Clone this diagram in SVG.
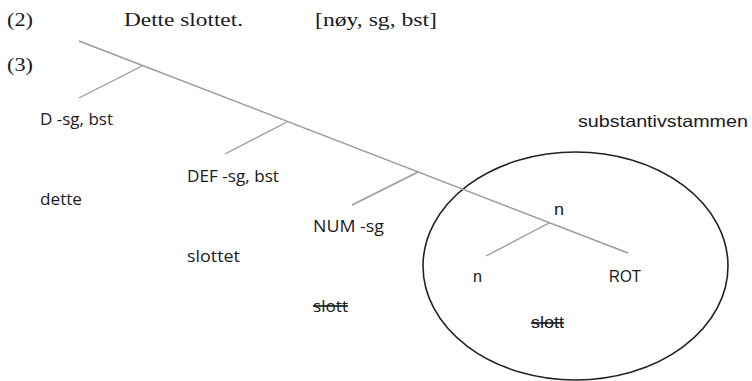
<svg xmlns="http://www.w3.org/2000/svg" width="752" height="381" viewBox="0 0 752 381">
<style>
.serif{font-family:"Liberation Serif","Times New Roman",serif;font-size:19.5px;fill:#1a1a1a}
.cal{font-family:"Open Sans","Liberation Sans",sans-serif;font-size:16.5px;fill:#1a1a1a}
.ari{font-family:"Liberation Sans",Arial,sans-serif;font-size:16.5px;fill:#1a1a1a}
.strike{text-decoration:line-through}
.edge{stroke:#9a9a9a;stroke-width:1.4;fill:none}
</style>
<rect width="752" height="381" fill="#fff"/>
<g id="header">
<text class="serif" x="7" y="26" textLength="26" lengthAdjust="spacingAndGlyphs">(2)</text>
<text class="serif" x="124" y="26" textLength="119" lengthAdjust="spacingAndGlyphs">Dette slottet.</text>
<text class="serif" x="315" y="26" textLength="122" lengthAdjust="spacingAndGlyphs">[nøy, sg, bst]</text>
<text class="serif" x="7" y="71" textLength="26" lengthAdjust="spacingAndGlyphs">(3)</text>
</g>
<g id="stem-circle">
<ellipse cx="575.5" cy="266" rx="152.5" ry="114" fill="none" stroke="#222" stroke-width="1.6"/>
<text class="ari" x="578" y="127" textLength="170" lengthAdjust="spacingAndGlyphs">substantivstammen</text>
</g>
<g id="connectors">
<line class="edge" x1="79" y1="41" x2="628" y2="253"/>
<line class="edge" x1="142" y1="66" x2="79" y2="98"/>
<line class="edge" x1="287" y1="122" x2="225" y2="154"/>
<line class="edge" x1="418" y1="172" x2="352" y2="205"/>
<line class="edge" x1="549" y1="223" x2="486" y2="256"/>
</g>
<g id="node-D">
<text class="cal" x="40" y="125" textLength="73" lengthAdjust="spacingAndGlyphs">D -sg, bst</text>
<text class="cal" x="40" y="205" textLength="42" lengthAdjust="spacingAndGlyphs">dette</text>
</g>
<g id="node-DEF">
<text class="cal" x="187" y="182" textLength="92" lengthAdjust="spacingAndGlyphs">DEF -sg, bst</text>
<text class="cal" x="187" y="262" textLength="53" lengthAdjust="spacingAndGlyphs">slottet</text>
</g>
<g id="node-NUM">
<text class="cal" x="313" y="232" textLength="71" lengthAdjust="spacingAndGlyphs">NUM -sg</text>
<text class="cal strike" x="313" y="312" textLength="35" lengthAdjust="spacingAndGlyphs">slott</text>
</g>
<g id="node-n-top">
<text class="ari" x="554" y="215" textLength="10" lengthAdjust="spacingAndGlyphs">n</text>
</g>
<g id="node-n">
<text class="ari" x="473" y="282" textLength="9" lengthAdjust="spacingAndGlyphs">n</text>
</g>
<g id="node-ROT">
<text class="ari" x="609" y="282" textLength="32" lengthAdjust="spacingAndGlyphs">ROT</text>
<text class="ari strike" x="531" y="328" textLength="33" lengthAdjust="spacingAndGlyphs">slott</text>
</g>
</svg>
